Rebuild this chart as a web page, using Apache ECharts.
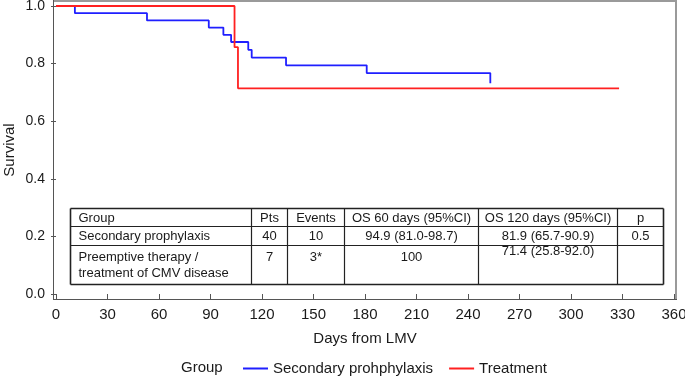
<!DOCTYPE html>
<html>
<head>
<meta charset="utf-8">
<title>Survival</title>
<script src="https://cdn.jsdelivr.net/npm/echarts@6.0.0/dist/echarts.min.js"></script>
<style>
  html, body { margin: 0; padding: 0; background: #fff; }
  #main { width: 685px; height: 376px; }
</style>
</head>
<body>
<div id="main"></div>
<script>
  // 曲线数据 (Kaplan-Meier)
  var groupNames = ['Secondary prohphylaxis', 'Treatment'];
  var prophDays = [0, 11, 53, 89, 97.5, 102, 112, 114, 134, 181, 253];
  var prophSurv = [1, 0.975, 0.95, 0.925, 0.9, 0.875, 0.848, 0.821, 0.794, 0.767, 0.732];
  var treatDays = [0, 104, 106, 328];
  var treatSurv = [1, 0.857, 0.714, 0.714];

  // 坐标轴刻度
  var xTicks = [0, 30, 60, 90, 120, 150, 180, 210, 240, 270, 300, 330, 360];
  var yTicks = [0, 0.2, 0.4, 0.6, 0.8, 1.0];

  // 表格内容
  var tableHead = ['Group', 'Pts', 'Events', 'OS 60 days (95%CI)', 'OS 120 days (95%CI)', 'p'];
  var tableRow1 = ['Secondary prophylaxis', '40', '10', '94.9 (81.0-98.7)', '81.9 (65.7-90.9)', '0.5'];
  var tableRow2 = ['Preemptive therapy /\ntreatment of CMV disease', '7', '3*', '100', '71.4 (25.8-92.0)', ''];

  var textColor = '#1a1a1a';
  var fontFamily = '"Liberation Sans", Arial, Helvetica, sans-serif';

  function zip(xs, ys) {
    return xs.map(function (x, i) { return [x, ys[i]]; });
  }

  // 表格布局 (像素)
  var colX = [70.5, 251.5, 287.5, 344.5, 478.5, 617.5, 663.5];
  var rowY = [208.5, 226.5, 245.5, 284.5];
  var rowTextY = [218, 236, 249];

  function buildTable() {
    var els = [];
    var i;
    for (i = 0; i < rowY.length; i++) {
      var outer = (i === 0 || i === rowY.length - 1);
      els.push({
        type: 'line',
        shape: { x1: colX[0], y1: rowY[i], x2: colX[colX.length - 1], y2: rowY[i] },
        style: { stroke: '#222', lineWidth: outer ? 1.6 : 1.2 }
      });
    }
    for (i = 0; i < colX.length; i++) {
      var outerC = (i === 0 || i === colX.length - 1);
      els.push({
        type: 'line',
        shape: { x1: colX[i], y1: rowY[0], x2: colX[i], y2: rowY[rowY.length - 1] },
        style: { stroke: '#222', lineWidth: outerC ? 1.6 : 1.2 }
      });
    }
    var rows = [tableHead, tableRow1, tableRow2];
    rows.forEach(function (row, r) {
      row.forEach(function (txt, c) {
        if (!txt) return;
        var left = c === 0;
        var x = left ? colX[0] + 8 : (colX[c] + colX[c + 1]) / 2;
        var y = rowTextY[r];
        var vAlign = r === 2 ? 'top' : 'middle';
        if (r === 2 && c === 4) y -= 6;
        els.push({
          type: 'text',
          x: x,
          y: y,
          style: {
            text: txt,
            fill: textColor,
            font: '13px ' + fontFamily,
            lineHeight: 16.5,
            align: left ? 'left' : 'center',
            verticalAlign: vAlign,
            textAlign: left ? 'left' : 'center',
            textVerticalAlign: vAlign
          }
        });
      });
    });
    return els;
  }

  var frame = [
    { type: 'line', shape: { x1: 53, y1: 1, x2: 677, y2: 1 }, style: { stroke: '#9a9a9a', lineWidth: 2 } },
    { type: 'line', shape: { x1: 676, y1: 0, x2: 676, y2: 300 }, style: { stroke: '#9a9a9a', lineWidth: 2 } },
    { type: 'line', shape: { x1: 53.5, y1: 0, x2: 53.5, y2: 300 }, style: { stroke: '#555', lineWidth: 1 } },
    { type: 'line', shape: { x1: 53, y1: 299.5, x2: 677, y2: 299.5 }, style: { stroke: '#555', lineWidth: 1 } },
    {
      type: 'text', x: 181, y: 368,
      style: {
        text: 'Group', fill: textColor, font: '15px ' + fontFamily,
        verticalAlign: 'middle', textVerticalAlign: 'middle'
      }
    }
  ];

  var myChart = echarts.init(document.getElementById('main'));
  myChart.setOption({
    animation: false,
    backgroundColor: '#fff',
    textStyle: { fontFamily: fontFamily },
    grid: {
      left: 56,
      right: 11,
      top: 6,
      bottom: 82,
      outerBoundsMode: 'none'
    },
    legend: {
      data: groupNames,
      left: 238,
      top: 356,
      icon: 'rect',
      itemWidth: 25,
      itemHeight: 2,
      itemGap: 16,
      textStyle: { fontSize: 15, color: textColor, fontFamily: fontFamily }
    },
    xAxis: {
      type: 'value',
      min: xTicks[0],
      max: xTicks[xTicks.length - 1],
      interval: xTicks[1] - xTicks[0],
      offset: 5,
      name: 'Days from LMV',
      nameLocation: 'middle',
      nameGap: 32,
      nameTextStyle: { fontSize: 15, color: textColor },
      axisLine: { show: false },
      axisTick: { show: true, length: 5, lineStyle: { color: '#555' } },
      axisLabel: { fontSize: 15, color: textColor, margin: 8 },
      splitLine: { show: false }
    },
    yAxis: {
      type: 'value',
      min: yTicks[0],
      max: yTicks[yTicks.length - 1],
      interval: yTicks[1] - yTicks[0],
      offset: 3,
      name: 'Survival',
      nameLocation: 'middle',
      nameGap: 36,
      nameMoveOverlap: false,
      nameRotate: 90,
      nameTextStyle: { fontSize: 15, color: textColor },
      axisLine: { show: false },
      axisTick: { show: true, length: 5, lineStyle: { color: '#555' } },
      axisLabel: {
        fontSize: 14, color: textColor, margin: 8,
        formatter: function (v) { return v.toFixed(1); }
      },
      splitLine: { show: false }
    },
    graphic: frame.concat(buildTable()),
    series: [
      {
        name: groupNames[0],
        type: 'line',
        step: 'end',
        showSymbol: false,
        color: '#1f1fff',
        lineStyle: { width: 1.8, color: '#1f1fff' },
        data: zip(prophDays, prophSurv)
      },
      {
        name: groupNames[1],
        type: 'line',
        step: 'end',
        showSymbol: false,
        color: '#ff2020',
        lineStyle: { width: 1.8, color: '#ff2020' },
        data: zip(treatDays, treatSurv)
      }
    ]
  });
</script>
</body>
</html>
